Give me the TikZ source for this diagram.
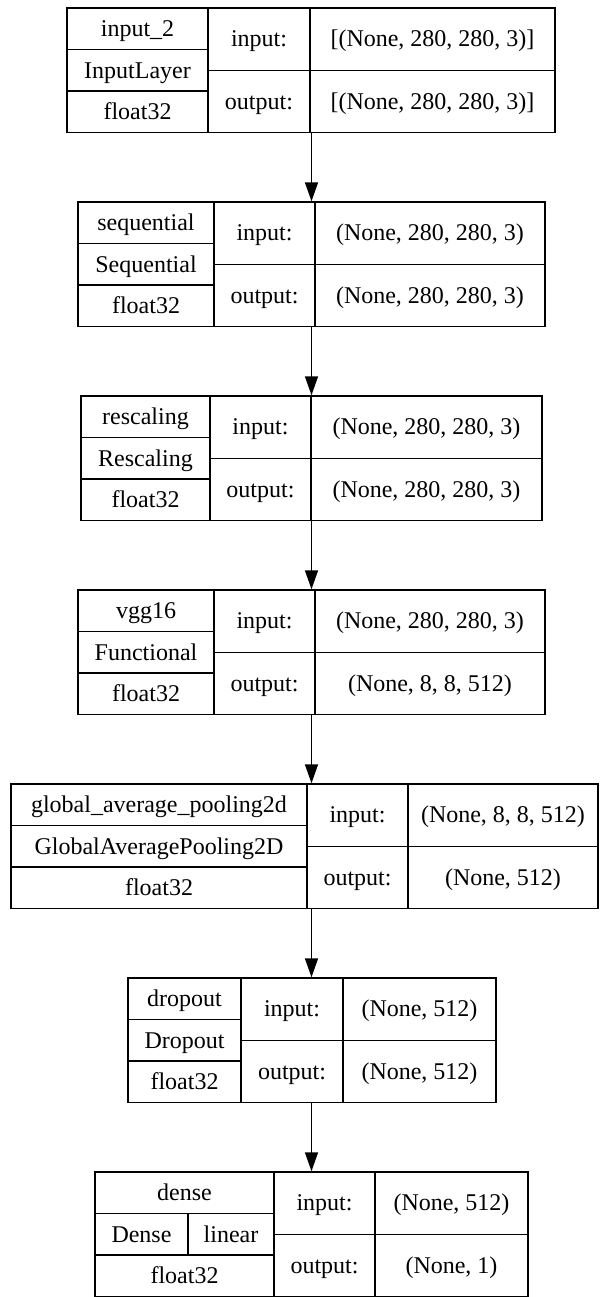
\documentclass[tikz,border=0pt]{standalone}
\usepackage{fontspec}
\setmainfont{Liberation Serif}
\usetikzlibrary{arrows.meta,fit}

\tikzset{
  box/.style={draw, line width=0.7pt, inner sep=0pt},
  txt/.style={inner sep=0pt, text height=7.8pt, text depth=0pt, font=\fontsize{12}{14}\selectfont},
  flow/.style={-{Triangle[length=9.5pt,width=6.5pt]}, line width=0.7pt},
}

\begin{document}
\begin{tikzpicture}[x=0.5pt, y=-0.5pt]
\useasboundingbox (0,0) rectangle (600,1297);
\def\bh{124.5}
% one layer: name, top, left, first and second divider, right
\def\layerbox#1#2#3#4#5#6{%
  \node[box, fit={(#3,#2) (#6,#2+\bh)}] (#1) {};
  \draw[line width=0.7pt] (#4,#2) -- (#4,#2+\bh) (#5,#2) -- (#5,#2+\bh)
    (#3,#2+\bh/3) -- (#4,#2+\bh/3) (#3,#2+2*\bh/3) -- (#4,#2+2*\bh/3)
    (#4,#2+\bh/2) -- (#6,#2+\bh/2);
  \coordinate (#1-a) at ({(#3+#4)/2},#2+\bh/6);
  \coordinate (#1-b) at ({(#3+#4)/2},#2+\bh/2);
  \coordinate (#1-c) at ({(#3+#4)/2},#2+5*\bh/6);
  \coordinate (#1-i) at ({(#4+#5)/2},#2+\bh/4);
  \coordinate (#1-o) at ({(#4+#5)/2},#2+3*\bh/4);
  \coordinate (#1-iv) at ({(#5+#6)/2},#2+\bh/4);
  \coordinate (#1-ov) at ({(#5+#6)/2},#2+3*\bh/4);
}
\layerbox{inp}{8}{67}{208}{310}{555}
\layerbox{seq}{202}{78}{214}{315}{545}
\layerbox{resc}{396}{81}{210}{311}{542}
\layerbox{vgg}{590}{78}{214}{315}{545}
\layerbox{gap}{784}{11}{307}{408}{598}
\layerbox{drop}{978}{128}{241}{343}{496}
\layerbox{dense}{1172}{95}{274}{375}{528}
\draw[line width=0.7pt] (188,1172+\bh/3) -- (188,1172+2*\bh/3);

\node[txt] (inp-n) at (inp-a) {input\_2};
\node[txt] (inp-k) at (inp-b) {InputLayer};
\node[txt] (inp-t) at (inp-c) {float32};
\node[txt] (inp-in) at (inp-i) {input:};
\node[txt] (inp-out) at (inp-o) {output:};
\node[txt] (inp-inv) at (inp-iv) {[(None, 280, 280, 3)]};
\node[txt] (inp-outv) at (inp-ov) {[(None, 280, 280, 3)]};

\node[txt] (seq-n) at (seq-a) {sequential};
\node[txt] (seq-k) at (seq-b) {Sequential};
\node[txt] (seq-t) at (seq-c) {float32};
\node[txt] (seq-in) at (seq-i) {input:};
\node[txt] (seq-out) at (seq-o) {output:};
\node[txt] (seq-inv) at (seq-iv) {(None, 280, 280, 3)};
\node[txt] (seq-outv) at (seq-ov) {(None, 280, 280, 3)};

\node[txt] (resc-n) at (resc-a) {rescaling};
\node[txt] (resc-k) at (resc-b) {Rescaling};
\node[txt] (resc-t) at (resc-c) {float32};
\node[txt] (resc-in) at (resc-i) {input:};
\node[txt] (resc-out) at (resc-o) {output:};
\node[txt] (resc-inv) at (resc-iv) {(None, 280, 280, 3)};
\node[txt] (resc-outv) at (resc-ov) {(None, 280, 280, 3)};

\node[txt] (vgg-n) at (vgg-a) {vgg16};
\node[txt] (vgg-k) at (vgg-b) {Functional};
\node[txt] (vgg-t) at (vgg-c) {float32};
\node[txt] (vgg-in) at (vgg-i) {input:};
\node[txt] (vgg-out) at (vgg-o) {output:};
\node[txt] (vgg-inv) at (vgg-iv) {(None, 280, 280, 3)};
\node[txt] (vgg-outv) at (vgg-ov) {(None, 8, 8, 512)};

\node[txt] (gap-n) at (gap-a) {global\_average\_pooling2d};
\node[txt] (gap-k) at (gap-b) {GlobalAveragePooling2D};
\node[txt] (gap-t) at (gap-c) {float32};
\node[txt] (gap-in) at (gap-i) {input:};
\node[txt] (gap-out) at (gap-o) {output:};
\node[txt] (gap-inv) at (gap-iv) {(None, 8, 8, 512)};
\node[txt] (gap-outv) at (gap-ov) {(None, 512)};

\node[txt] (drop-n) at (drop-a) {dropout};
\node[txt] (drop-k) at (drop-b) {Dropout};
\node[txt] (drop-t) at (drop-c) {float32};
\node[txt] (drop-in) at (drop-i) {input:};
\node[txt] (drop-out) at (drop-o) {output:};
\node[txt] (drop-inv) at (drop-iv) {(None, 512)};
\node[txt] (drop-outv) at (drop-ov) {(None, 512)};

\node[txt] (dense-n) at (dense-a) {dense};
\node[txt] (dense-k) at (141.5,1172+\bh/2) {Dense};
\node[txt] (dense-f) at (231,1172+\bh/2) {linear};
\node[txt] (dense-t) at (dense-c) {float32};
\node[txt] (dense-in) at (dense-i) {input:};
\node[txt] (dense-out) at (dense-o) {output:};
\node[txt] (dense-inv) at (dense-iv) {(None, 512)};
\node[txt] (dense-outv) at (dense-ov) {(None, 1)};

\coordinate (c) at (311.5,0);
\foreach \a/\b in {inp/seq, seq/resc, resc/vgg, vgg/gap, gap/drop, drop/dense}
  \draw[flow] (\a.south -| c) -- (\b.north -| c);
\end{tikzpicture}
\end{document}
